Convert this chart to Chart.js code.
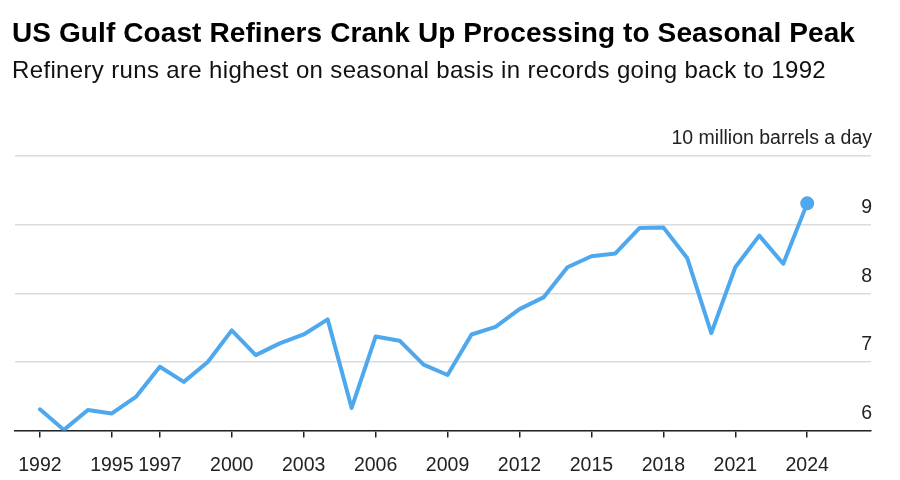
<!DOCTYPE html>
<html>
<head>
<meta charset="utf-8">
<script src="https://cdn.jsdelivr.net/npm/chart.js@4/dist/chart.umd.min.js"></script>
<style>
  body { margin: 0; background: #fff; }
  #wrap { position: relative; width: 900px; height: 480px; overflow: hidden; }
  #title { position: absolute; left: 12px; top: 17px; font: bold 28px "Liberation Sans", Arial, sans-serif; color: #000; letter-spacing: 0.1px; white-space: nowrap; }
  #subtitle { position: absolute; left: 12px; top: 56px; font: 24px "Liberation Sans", Arial, sans-serif; color: #111; letter-spacing: 0.35px; white-space: nowrap; }
  #chartBox { position: absolute; left: 0; top: 0; width: 900px; height: 498px; }
</style>
</head>
<body>
<div id="wrap">
  <div id="chartBox"><canvas id="refineryChart"></canvas></div>
  <div id="title">US Gulf Coast Refiners Crank Up Processing to Seasonal Peak</div>
  <div id="subtitle">Refinery runs are highest on seasonal basis in records going back to 1992</div>
</div>
<script>
// years and refinery runs (million barrels a day)
const years = [1992, 1993, 1994, 1995, 1996, 1997, 1998, 1999, 2000, 2001, 2002,
  2003, 2004, 2005, 2006, 2007, 2008, 2009, 2010, 2011, 2012, 2013, 2014, 2015,
  2016, 2017, 2018, 2019, 2020, 2021, 2022, 2023, 2024];
const runs = [6.31, 6.01, 6.30, 6.25, 6.49, 6.93, 6.71, 7.00, 7.46, 7.10, 7.27,
  7.40, 7.62, 6.33, 7.37, 7.31, 6.96, 6.81, 7.40, 7.51, 7.77, 7.94, 8.38, 8.54,
  8.58, 8.95, 8.96, 8.51, 7.42, 8.38, 8.84, 8.43, 9.31];

// axis ticks
const xTickYears = [1992, 1995, 1997, 2000, 2003, 2006, 2009, 2012, 2015, 2018, 2021, 2024];
const yTickValues = [6, 7, 8, 9, 10];
const yTopLabel = "10 million barrels a day";

const points = years.map((y, i) => ({ x: y, y: runs[i] }));
const lastIdx = points.length - 1;
const blue = "#4ea8ee";

const ctx = document.getElementById("refineryChart");

new Chart(ctx, {
  type: "line",
  data: {
    datasets: [
      {
        data: points,
        borderColor: blue,
        backgroundColor: blue,
        borderWidth: 4,
        tension: 0,
        pointRadius: points.map((p, i) => (i === lastIdx ? 5 : 0)),
        pointHoverRadius: 0,
        borderJoinStyle: "round",
        borderCapStyle: "round",
      },
    ],
  },
  options: {
    responsive: true,
    maintainAspectRatio: false,
    animation: false,
    layout: { padding: { top: 156, left: 15, right: 27, bottom: 5 } },
    plugins: { legend: { display: false }, tooltip: { enabled: false } },
    scales: {
      x: {
        type: "linear",
        min: 1990.96,
        max: 2026.66,
        afterBuildTicks: (axis) => {
          axis.ticks = xTickYears.map((v) => ({ value: v }));
        },
        grid: {
          drawOnChartArea: false,
          drawTicks: true,
          tickLength: 7,
          color: "#222",
          lineWidth: 1.5,
        },
        border: { display: true, color: "#222", width: 1.5 },
        ticks: {
          color: "#222",
          font: { family: "Liberation Sans", size: 19.5 },
          padding: 16,
          maxRotation: 0,
          autoSkip: false,
          callback: (v) => String(v),
        },
      },
      y: {
        position: "right",
        min: 6,
        max: 10,
        afterBuildTicks: (axis) => {
          axis.ticks = yTickValues.map((v) => ({ value: v }));
        },
        grid: { color: "#dcdcdc", lineWidth: 1.5, drawTicks: false },
        border: { display: false },
        ticks: {
          mirror: true,
          padding: 1,
          labelOffset: -17,
          color: "#222",
          font: { family: "Liberation Sans", size: 19.5 },
          callback: (v) => (v === 10 ? yTopLabel : String(v)),
        },
      },
    },
  },
});
</script>
</body>
</html>
